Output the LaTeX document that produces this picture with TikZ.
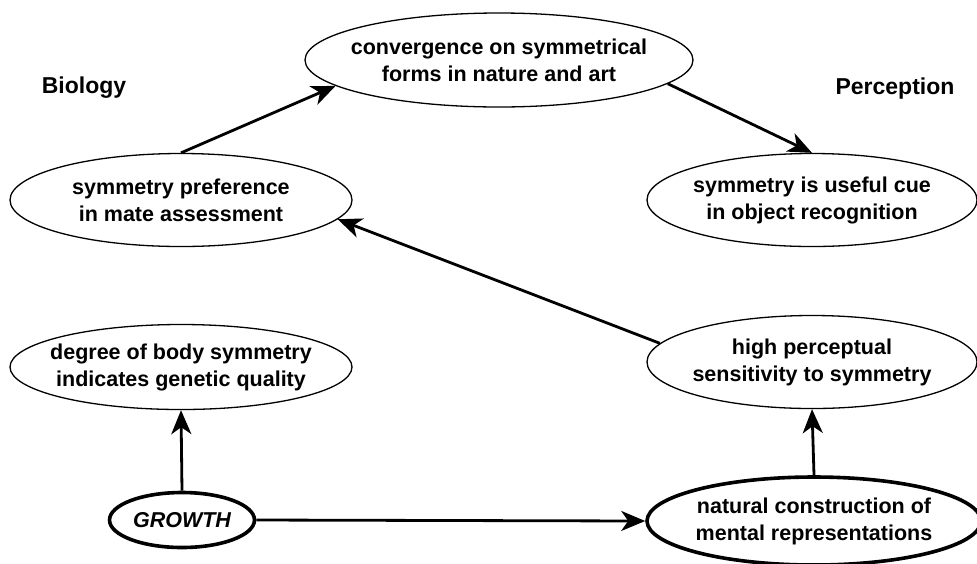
\documentclass[tikz,border=0pt]{standalone}
\usepackage{fontspec}
\setmainfont{Liberation Sans}
\usetikzlibrary{shapes.geometric,arrows.meta}

\begin{document}
\begin{tikzpicture}[x=0.5pt, y=-0.5pt,
    idea/.style = {ellipse, draw, line width=0.65pt, inner sep=0pt},
    root/.style = {idea, line width=1.8pt},
    txt/.style = {font=\bfseries\fontsize{10.75}{13.5}\selectfont, align=center},
    head/.style = {font=\bfseries\fontsize{11.5}{14}\selectfont, anchor=base},
    link/.style = {-{Stealth[length=12pt, width=10pt, inset=3.5pt]}, line width=1.4pt}]
  \useasboundingbox (0,0) rectangle (977,563);
  % column headings
  \node[head] (bio) at (84,93) {Biology};
  \node[head] (perc) at (895,94) {Perception};
  % top
  \node[idea, minimum width=194pt, minimum height=47pt,
    label={[txt]center:{convergence on symmetrical\\forms in nature and art}}]
    (conv) at (499,60) {};
  % biology side
  \node[idea, minimum width=171pt, minimum height=46.5pt,
    label={[txt]center:{symmetry preference\\in mate assessment}}]
    (mate) at (181,200) {};
  \node[idea, minimum width=171pt, minimum height=42.5pt,
    label={[txt]center:{degree of body symmetry\\indicates genetic quality}}]
    (body) at (181,367) {};
  \node[root, minimum width=72.5pt, minimum height=27.5pt,
    label={[txt]center:{\itshape GROWTH}}]
    (growth) at (182,520) {};
  % perception side
  \node[idea, minimum width=165pt, minimum height=46.5pt,
    label={[txt]center:{symmetry is useful cue\\in object recognition}}]
    (cue) at (812,200) {};
  \node[idea, minimum width=165pt, minimum height=46.5pt,
    label={[txt]center:{high perceptual\\sensitivity to symmetry}}]
    (sens) at (812,362) {};
  \node[root, minimum width=167pt, minimum height=44pt,
    label={[txt]center:{natural construction of\\mental representations}}]
    (mental) at (814,521) {};
  % links
  \draw[link] (growth.north) -- (body.south);
  \draw[link] (growth.east) -- (mental.west);
  \draw[link] (mental.north) -- (sens.south);
  \draw[link] (sens.173) -- (mate.-7);
  \draw[link] (mate.north) -- (conv.189);
  \draw[link] (conv.-8) -- (cue.north);
\end{tikzpicture}
\end{document}
